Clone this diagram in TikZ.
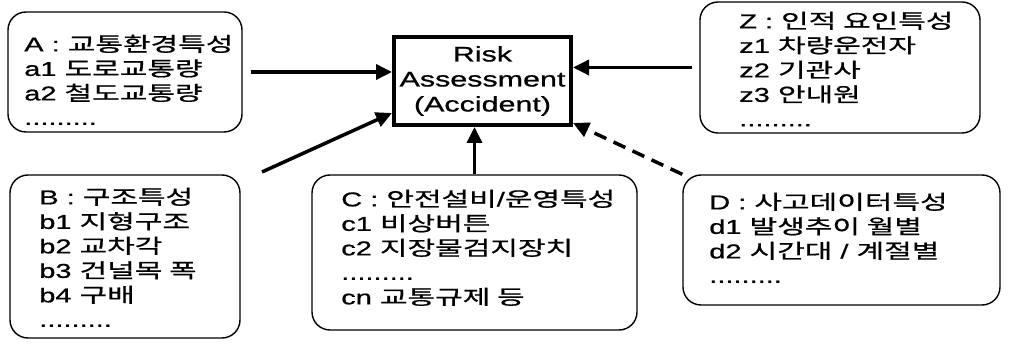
\documentclass[tikz,border=0pt]{standalone}
\usepackage{fontspec}
\setmainfont{Liberation Sans}[FakeStretch=1.45,FakeBold=0.8]
\newfontfamily\krfont{Noto Sans CJK KR}[FakeStretch=1.5,FakeBold=0.8]
\usetikzlibrary{positioning,arrows.meta}
\begin{document}
\begin{tikzpicture}[x=1pt,y=-1pt,
    factor/.style={draw,line width=1.4pt,rounded corners=18pt},
    items/.style={align=left,inner sep=0pt,outer sep=0pt,font=\fontsize{20}{24.5}\selectfont},
    feed/.style={line width=3.5pt,-{Triangle[length=16pt,width=15pt]}}]
  \useasboundingbox (0,0) rectangle (1013,347);
  \node[draw,line width=4pt,minimum width=177pt,minimum height=88pt,align=center,
    font=\fontsize{21}{25}\selectfont] (risk) at (482.5,81) {Risk\\Assessment\\(Accident)};
  \node[factor,minimum width=234pt,minimum height=120pt] (A) at (125,72) {};
  \node[factor,minimum width=280pt,minimum height=131pt] (Z) at (840,67.5) {};
  \node[factor,minimum width=230pt,minimum height=163pt] (B) at (125,256.5) {};
  \node[factor,minimum width=325pt,minimum height=155pt] (C) at (474.5,252.5) {};
  \node[factor,minimum width=317pt,minimum height=130pt] (D) at (841.5,240) {};
  \node[items,below right=23.5pt and 17pt of A.north west] (a)
    {A : {\krfont 교통환경특성}\\a1 {\krfont 도로교통량}\\a2 {\krfont 철도교통량}\\.........};
  \node[items,below right=10.5pt and 40pt of Z.north west] (z)
    {Z : {\krfont 인적 요인특성}\\z1 {\krfont 차량운전자}\\z2 {\krfont 기관사}\\z3 {\krfont 안내원}\\.........};
  \node[items,below right=13.5pt and 30pt of B.north west] (b)
    {B : {\krfont 구조특성}\\b1 {\krfont 지형구조}\\b2 {\krfont 교차각}\\b3 {\krfont 건널목 폭}\\b4 {\krfont 구배}\\.........};
  \node[items,below right=15.5pt and 30pt of C.north west] (c)
    {C : {\krfont 안전설비}/{\krfont 운영특성}\\c1 {\krfont 비상버튼}\\c2 {\krfont 지장물검지장치}\\.........\\cn {\krfont 교통규제 등}};
  \node[items,below right=18.5pt and 27pt of D.north west] (d)
    {D : {\krfont 사고데이터특성}\\d1 {\krfont 발생추이 월별}\\d2 {\krfont 시간대} / {\krfont 계절별}\\.........};
  \coordinate (btail) at (262,172);
  \begin{scope}[feed]
    \draw ([xshift=8pt]A.east) -- (A.east -| risk.west);
    \draw (btail) -- ([yshift=14pt]risk.south west);
    \draw (C.north) -- (C.north |- risk.south);
    \draw ([xshift=-7pt]Z.west) -- (Z.west -| risk.east);
    \draw[dash pattern=on 13pt off 8pt] (D.north west) -- ([yshift=4pt]risk.south east);
  \end{scope}
\end{tikzpicture}
\end{document}
